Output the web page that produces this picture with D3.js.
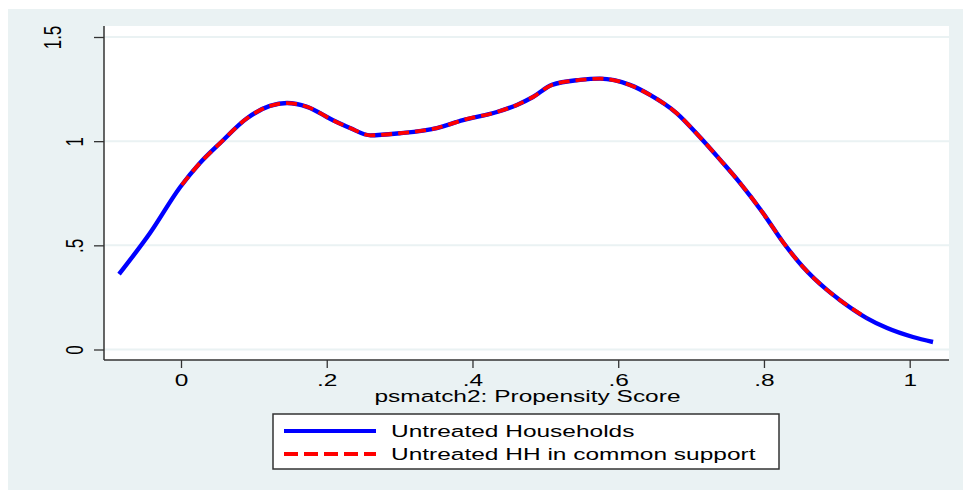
<!DOCTYPE html>
<html>
<head>
<meta charset="utf-8">
<script src="https://cdn.jsdelivr.net/npm/d3@7"></script>
<style>
  html, body { margin: 0; padding: 0; background: #ffffff; }
  svg { display: block; }
  text { font-family: "Liberation Sans", Arial, sans-serif; fill: #000; }
</style>
</head>
<body>
<svg id="chart" width="963" height="491"></svg>
<script>
// ---- data ----
const untreatedX = [-0.085, -0.0425, -0.001, 0.026, 0.0535, 0.0906, 0.122, 0.1455, 0.173, 0.2086, 0.232, 0.26, 0.30, 0.351, 0.387, 0.4336, 0.461, 0.483, 0.509, 0.5475, 0.575, 0.616, 0.6436, 0.68, 0.712, 0.74, 0.767, 0.7987, 0.826, 0.8536, 0.8865, 0.904, 0.941, 0.969, 1.0045, 1.032];
const untreatedY = [0.362, 0.559, 0.78, 0.895, 0.99, 1.11, 1.169, 1.183, 1.165, 1.10, 1.063, 1.028, 1.038, 1.063, 1.101, 1.14, 1.174, 1.212, 1.27, 1.294, 1.300, 1.27, 1.222, 1.135, 1.02, 0.91, 0.80, 0.655, 0.516, 0.396, 0.286, 0.238, 0.151, 0.103, 0.06, 0.036];
const supportX = [0.001, 0.026, 0.0535, 0.0906, 0.122, 0.1455, 0.173, 0.2086, 0.232, 0.26, 0.30, 0.351, 0.387, 0.4336, 0.461, 0.483, 0.509, 0.5475, 0.575, 0.616, 0.6436, 0.68, 0.712, 0.74, 0.767, 0.7987, 0.826, 0.8536, 0.8865, 0.904, 0.941];
const supportY = [0.79, 0.895, 0.99, 1.11, 1.169, 1.183, 1.165, 1.10, 1.063, 1.028, 1.038, 1.063, 1.101, 1.14, 1.174, 1.212, 1.27, 1.294, 1.300, 1.27, 1.222, 1.135, 1.02, 0.91, 0.80, 0.655, 0.516, 0.396, 0.286, 0.238, 0.151];
const xTicks = [0, 0.2, 0.4, 0.6, 0.8, 1];
const xTickLabels = ["0", ".2", ".4", ".6", ".8", "1"];
const yTicks = [0, 0.5, 1, 1.5];
const yTickLabels = ["0", ".5", "1", "1.5"];
const xTitle = "psmatch2: Propensity Score";
const legendLabels = ["Untreated Households", "Untreated HH in common support"];

// ---- layout ----
const SX = 1.44; // horizontal stretch of all text, as in the reference
const svg = d3.select("#chart");
const plot = { left: 104, right: 949, top: 26, bottom: 360 };

svg.append("rect").attr("x", 8).attr("y", 9).attr("width", 955).attr("height", 481).attr("fill", "#eaf2f3");
svg.append("rect").attr("x", plot.left).attr("y", plot.top)
   .attr("width", plot.right - plot.left).attr("height", plot.bottom - plot.top).attr("fill", "#ffffff");

const x = d3.scaleLinear().domain([0, 1]).range([181, 909.7]);
const y = d3.scaleLinear().domain([0, 1.5]).range([349.5, 37]);

// gridlines
svg.append("g").selectAll("line").data(yTicks).join("line")
  .attr("x1", plot.left).attr("x2", plot.right)
  .attr("y1", d => y(d)).attr("y2", d => y(d))
  .attr("stroke", "#eaf2f3").attr("stroke-width", 2);

// y axis
const yAxis = d3.axisLeft(y).tickValues(yTicks).tickSize(10).tickFormat((d, i) => yTickLabels[i]);
const gy = svg.append("g").attr("transform", `translate(${plot.left},0)`).call(yAxis);
gy.select(".domain").remove();
gy.selectAll(".tick line").attr("stroke", "#333").attr("stroke-width", 1.3);
gy.selectAll(".tick text").remove();
gy.selectAll(".tick").append("text")
  .attr("transform", (d, i) => `translate(${yTickLabels[i].length > 2 ? -43 : -21},0) scale(${SX},1) rotate(-90)`)
  .attr("text-anchor", "middle").attr("font-size", 17)
  .attr("fill", "#000")
  .text((d, i) => yTickLabels[i]);

// x axis
const xAxis = d3.axisBottom(x).tickValues(xTicks).tickSize(8).tickFormat((d, i) => xTickLabels[i]);
const gx = svg.append("g").attr("transform", `translate(0,${plot.bottom})`).call(xAxis);
gx.select(".domain").remove();
gx.selectAll(".tick line").attr("stroke", "#333").attr("stroke-width", 1.3);
gx.selectAll(".tick text").remove();
gx.selectAll(".tick").append("text")
  .attr("transform", `translate(0,25.5) scale(${SX},1)`)
  .attr("text-anchor", "middle").attr("font-size", 17).attr("fill", "#000")
  .text((d, i) => xTickLabels[i]);

// axis lines
svg.append("line").attr("x1", plot.left).attr("x2", plot.left).attr("y1", plot.top).attr("y2", plot.bottom)
  .attr("stroke", "#333").attr("stroke-width", 1.5);
svg.append("line").attr("x1", plot.left).attr("x2", plot.right).attr("y1", plot.bottom).attr("y2", plot.bottom)
  .attr("stroke", "#333").attr("stroke-width", 1.5);

// title
svg.append("text").attr("transform", `translate(${(plot.left + plot.right) / 2 + 1},402) scale(${SX},1)`)
  .attr("text-anchor", "middle").attr("font-size", 17).text(xTitle);

// lines
const line = d3.line().x(d => x(d[0])).y(d => y(d[1])).curve(d3.curveMonotoneX);
const blueData = untreatedX.map((v, i) => [v, untreatedY[i]]);
const redData = supportX.map((v, i) => [v, supportY[i]]);
svg.append("path").datum(blueData).attr("d", line)
  .attr("fill", "none").attr("stroke", "#0000ff").attr("stroke-width", 4.4).attr("stroke-linejoin", "round");
svg.append("path").datum(redData).attr("d", line)
  .attr("fill", "none").attr("stroke", "#ff0000").attr("stroke-width", 3.8)
  .attr("stroke-dasharray", "11,6");

// legend
const lg = svg.append("g");
lg.append("rect").attr("x", 273).attr("y", 414).attr("width", 506).attr("height", 55)
  .attr("fill", "#ffffff").attr("stroke", "#333").attr("stroke-width", 1.5);
const rows = [
  { label: legendLabels[0], color: "#0000ff", dash: null, yy: 431 },
  { label: legendLabels[1], color: "#ff0000", dash: "14,6", yy: 454 }
];
rows.forEach(r => {
  lg.append("line").attr("x1", 284).attr("x2", 376).attr("y1", r.yy).attr("y2", r.yy)
    .attr("stroke", r.color).attr("stroke-width", 4).attr("stroke-dasharray", r.dash);
  lg.append("text").attr("transform", `translate(391,${r.yy + 6}) scale(${SX},1)`)
    .attr("font-size", 17).text(r.label);
});
</script>
</body>
</html>
